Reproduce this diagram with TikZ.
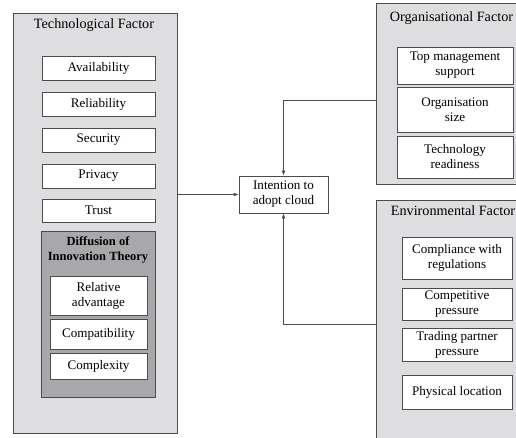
\documentclass[tikz,border=0pt]{standalone}
\usepackage{fontspec}
\setmainfont{Liberation Serif}
\usetikzlibrary{arrows.meta}
\definecolor{outer}{rgb}{.87,.87,.88}
\definecolor{dark}{rgb}{.66,.66,.67}
\definecolor{frame}{rgb}{.3,.3,.3}
\newcommand{\itemfont}{\fontsize{13.1}{15}\selectfont}
\newcommand{\headfont}{\fontsize{14.2}{15.5}\selectfont}
\tikzstyle{factor}=[draw=frame, fill=outer, line width=.8pt, inner sep=0pt]
\tikzstyle{item}=[draw=frame, fill=white, line width=.8pt, align=center, inner sep=1pt, font=\itemfont]
\tikzstyle{head}=[align=center, inner sep=0pt, font=\headfont]
\tikzstyle{link}=[draw=frame, line width=.8pt, -{Latex[length=5pt,width=4pt]}]

\begin{document}
\begin{tikzpicture}[x=1pt, y=-1pt]

      \useasboundingbox (0,0) rectangle (516,438);
      \clip (0,0) rectangle (516,438);

      % technological factor
      \node[factor, minimum width=164pt, minimum height=420pt] (tech) at (95,223) {};
      \node[head] (techhead) at (94,25) {Technological Factor};

      \node[item, minimum width=113pt, minimum height=24pt] (avail) at (98.5,68) {Availability};
      \node[item, minimum width=113pt, minimum height=24pt] (reli) at (98.5,104) {Reliability};
      \node[item, minimum width=113pt, minimum height=24pt] (secu) at (98.5,140) {Security};
      \node[item, minimum width=113pt, minimum height=24pt] (priv) at (98.5,176) {Privacy};
      \node[item, minimum width=113pt, minimum height=23pt] (trust) at (98.5,210.5) {Trust};

      \node[factor, fill=dark, minimum width=114pt, minimum height=166pt] (doi) at (98,314) {};
      \node[head, font=\fontsize{12.5}{15}\selectfont\bfseries] (doihead) at (98,250) {Diffusion of\\Innovation Theory};

      \node[item, minimum width=97pt, minimum height=39pt] (relad) at (98.5,295.5) {Relative\\advantage};
      \node[item, minimum width=97pt, minimum height=30pt] (compat) at (98.5,334) {Compatibility};
      \node[item, minimum width=97pt, minimum height=26pt] (complex) at (98.5,366) {Complexity};

      % organisational factor
      \node[factor, minimum width=164pt, minimum height=181pt] (org) at (458,93.5) {};
      \node[head] (orghead) at (451.5,18) {Organisational Factor};

      \node[item, minimum width=116pt, minimum height=37pt] (topman) at (455,65.5) {Top management\\support};
      \node[item, minimum width=116pt, minimum height=45pt] (orgsize) at (455,109.5) {Organisation\\size};
      \node[item, minimum width=116pt, minimum height=42pt] (techready) at (455,157) {Technology\\readiness};

      % environmental factor
      \node[factor, minimum width=164pt, minimum height=260pt] (env) at (458,330) {};
      \node[head] (envhead) at (453,211) {Environmental Factor};

      \node[item, minimum width=110pt, minimum height=42pt] (compl) at (457,258) {Compliance with\\regulations};
      \node[item, minimum width=110pt, minimum height=32pt] (compet) at (457,304) {Competitive\\pressure};
      \node[item, minimum width=110pt, minimum height=33pt] (trade) at (457,344.5) {Trading partner\\pressure};
      \node[item, minimum width=110pt, minimum height=34pt] (phys) at (457,392) {Physical location};

      % outcome
      \node[item, minimum width=89pt, minimum height=37pt] (intent) at (283.5,194.5) {Intention to\\adopt cloud};

      \coordinate (orgout) at (org.west |- 0,100);
      \coordinate (envout) at (env.west |- 0,324);

      \draw[link] (tech.east |- intent.west) -- (intent.west);
      \draw[link] (orgout) -| (intent.north);
      \draw[link] (envout) -| (intent.south);

\end{tikzpicture}
\end{document}
